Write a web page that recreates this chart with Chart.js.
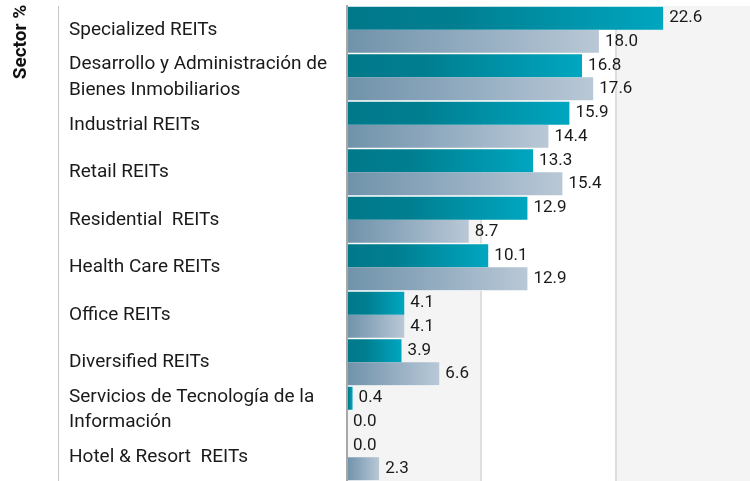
<!DOCTYPE html>
<html>
<head>
<meta charset="utf-8">
<script src="https://cdn.jsdelivr.net/npm/chart.js@4"></script>
<style>
  html, body { margin: 0; padding: 0; background: #fff; }
  #wrap { width: 750px; height: 481px; position: relative; }
</style>
</head>
<body>
<div id="wrap"><canvas id="chart"></canvas></div>
<script>
// 섹터 이름 (두 줄 라벨은 배열)
const sectors = [
    'Specialized REITs',
    ['Desarrollo y Administración de', 'Bienes Inmobiliarios'],
    'Industrial REITs',
    'Retail REITs',
    'Residential  REITs',
    'Health Care REITs',
    'Office REITs',
    'Diversified REITs',
    ['Servicios de Tecnología de la', 'Información'],
    'Hotel & Resort  REITs'
];
const fundValues = [22.6, 16.8, 15.9, 13.3, 12.9, 10.1, 4.1, 3.9, 0.4, 0.0];
const benchValues = [18.0, 17.6, 14.4, 15.4, 8.7, 12.9, 4.1, 6.6, 0.0, 2.3];
const axisTitle = 'Sector %';

// 막대마다 길이에 맞춘 그라데이션
function barGradient(stops) {
    return function(context) {
        const chart = context.chart;
        const xs = chart.scales.x;
        if (!xs || !chart.chartArea || context.type !== 'data') return stops[0][1];
        const x0 = xs.getPixelForValue(0);
        const x1 = xs.getPixelForValue(context.raw);
        if (x1 - x0 < 1) return stops[stops.length - 1][1];
        const g = chart.ctx.createLinearGradient(x0, 0, x1, 0);
        stops.forEach(s => g.addColorStop(s[0], s[1]));
        return g;
    };
}

const bandPlugin = {
    id: 'bands',
    beforeDraw(chart) {
        const { ctx, chartArea, scales } = chart;
        const xs = scales.x;
        const ticks = [0, 9.6, 19.2, 28.8];
        ctx.save();
        for (let i = 0; i < ticks.length - 1; i++) {
            ctx.fillStyle = i % 2 === 0 ? '#f4f4f4' : '#ffffff';
            const a = xs.getPixelForValue(ticks[i]);
            const b = xs.getPixelForValue(ticks[i + 1]);
            ctx.fillRect(a, chartArea.top, b - a, chartArea.bottom - chartArea.top);
        }
        // 왼쪽 구분선
        ctx.strokeStyle = '#c8c8c8';
        ctx.lineWidth = 1;
        ctx.beginPath();
        ctx.moveTo(58.5, chartArea.top);
        ctx.lineTo(58.5, chartArea.bottom);
        ctx.stroke();
        // 세로 제목
        ctx.translate(21, 42);
        ctx.rotate(-Math.PI / 2);
        ctx.fillStyle = '#111';
        ctx.font = 'bold 19px Roboto';
        ctx.textAlign = 'center';
        ctx.textBaseline = 'middle';
        ctx.fillText(axisTitle, 0, 0);
        ctx.restore();
    }
};

const valueLabelPlugin = {
    id: 'valueLabels',
    afterDatasetsDraw(chart) {
        const ctx = chart.ctx;
        ctx.save();
        ctx.font = '17px Roboto';
        ctx.fillStyle = '#1a1a1a';
        ctx.textAlign = 'left';
        ctx.textBaseline = 'middle';
        chart.data.datasets.forEach((ds, di) => {
            chart.getDatasetMeta(di).data.forEach((bar, i) => {
                ctx.fillText(ds.data[i].toFixed(1), bar.x + 6, bar.y);
            });
        });
        ctx.restore();
    }
};

new Chart(document.getElementById('chart'), {
    type: 'bar',
    data: {
        labels: sectors,
        datasets: [
            {
                data: fundValues,
                backgroundColor: barGradient([[0, '#00788a'], [0.35, '#007f91'], [1, '#00a6c0']]),
                borderColor: '#ffffff',
                borderWidth: { top: 1, bottom: 0, left: 0, right: 0 },
                borderSkipped: false
            },
            {
                data: benchValues,
                backgroundColor: barGradient([[0, '#7093aa'], [0.35, '#88a4ba'], [1, '#b9c8d6']]),
                borderColor: '#ffffff',
                borderWidth: { top: 0, bottom: 1, left: 0, right: 0 },
                borderSkipped: false
            }
        ]
    },
    options: {
        indexAxis: 'y',
        responsive: true,
        maintainAspectRatio: false,
        animation: false,
        categoryPercentage: 1.0,
        barPercentage: 1.0,
        layout: { padding: { left: 69, top: 6, right: 0, bottom: 0 } },
        plugins: {
            legend: { display: false },
            tooltip: { enabled: false }
        },
        scales: {
            x: {
                min: 0,
                max: 28.8,
                ticks: { display: false, stepSize: 9.6 },
                grid: {
                    drawTicks: false,
                    color: ctx => (ctx.index === 1 || ctx.index === 2) ? '#dedede' : 'rgba(0,0,0,0)',
                    lineWidth: 2
                },
                border: { display: false },
                afterFit(scale) { scale.height = 0; scale.paddingLeft = 0; scale.paddingRight = 0; }
            },
            y: {
                afterFit(scale) {
                    scale.width = 278;
                    scale.paddingTop = 0;
                    scale.paddingBottom = 0;
                },
                ticks: {
                    autoSkip: false,
                    crossAlign: 'far',
                    color: '#1a1a1a',
                    font: { family: 'Roboto', size: 19, lineHeight: 1.35 }
                },
                grid: { display: false, drawTicks: false },
                border: { display: true, color: '#a8a8a8', width: 2 }
            }
        }
    },
    plugins: [bandPlugin, valueLabelPlugin]
});
</script>
</body>
</html>
